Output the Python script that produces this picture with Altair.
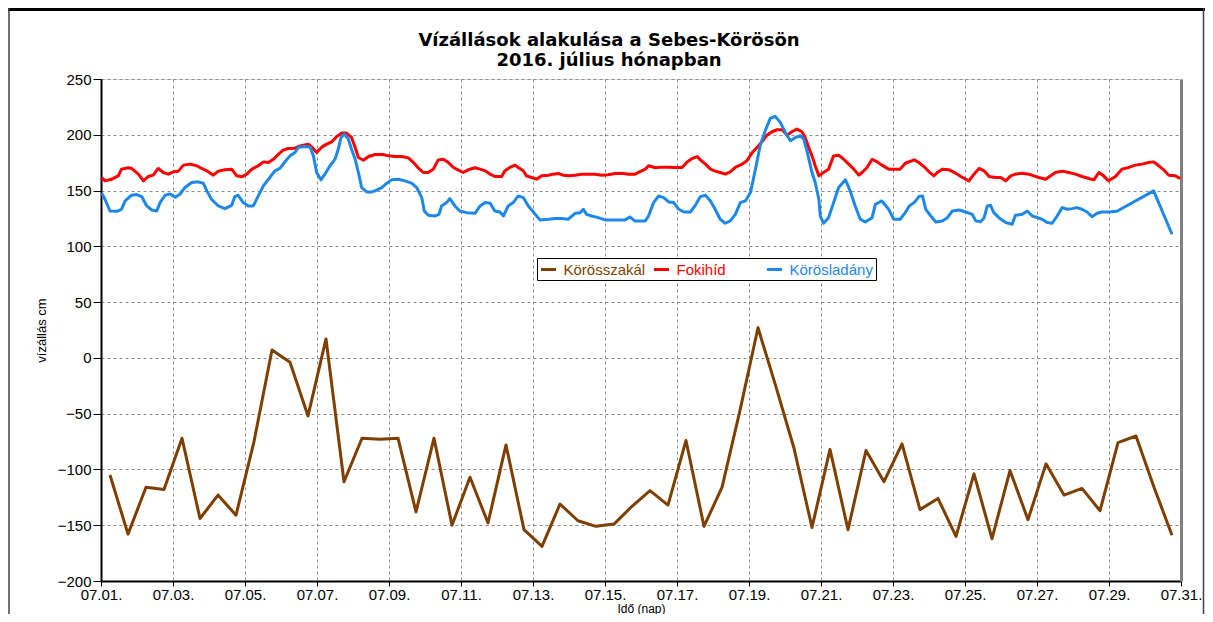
import altair as alt
import pandas as pd

# ---------------- data (day offset from 07.01. 00:00, water level cm) ----------------
series_names = ["Körösszakál", "Fokihíd", "Körösladány"]
series_colors = ["#7f3f00", "#ff0000", "#1e88e8"]

brown_t = [0.25, 0.75, 1.25, 1.75, 2.25, 2.75, 3.25, 3.75, 4.25, 4.75,
           5.25, 5.75, 6.25, 6.75, 7.25, 7.75, 8.25, 8.75, 9.25, 9.75,
           10.25, 10.75, 11.25, 11.75, 12.25, 12.75, 13.25, 13.75, 14.25, 14.75,
           15.25, 15.75, 16.25, 16.75, 17.25, 17.75, 18.25, 18.75, 19.25, 19.75,
           20.25, 20.75, 21.25, 21.75, 22.25, 22.75, 23.25, 23.75, 24.25, 24.75,
           25.25, 25.75, 26.25, 26.75, 27.25, 27.75, 28.25, 28.75, 29.25, 29.75]
brown_v = [-105, -158, -116, -118, -72, -144, -123, -141, -75, 7,
           -4, -52, 17, -111, -72, -73, -72, -138, -72, -150,
           -107, -148, -78, -154, -169, -131, -146, -151, -149, -133,
           -119, -132, -74, -151, -116, -47, 27, -26, -81, -152,
           -82, -154, -83, -111, -77, -136, -126, -160, -104, -162,
           -101, -145, -95, -123, -117, -137, -76, -70, -116, -159]

red_t = [0.02, 0.11, 0.30, 0.48, 0.57, 0.76, 0.85, 1.04, 1.18, 1.31, 1.45, 1.59, 1.73, 1.87,
         2.01, 2.15, 2.29, 2.47, 2.66, 2.80, 2.94, 3.12, 3.26, 3.44, 3.63, 3.77, 3.91,
         4.05, 4.19, 4.37, 4.51, 4.65, 4.79, 4.93, 5.06, 5.20, 5.39, 5.48, 5.62, 5.76,
         5.85, 5.99, 6.13, 6.27, 6.41, 6.55, 6.69, 6.82, 6.96, 7.06, 7.15, 7.29, 7.43,
         7.56, 7.61, 7.84, 7.98, 8.17, 8.35, 8.54, 8.68, 8.81, 8.95, 9.09, 9.23, 9.37,
         9.51, 9.65, 9.79, 9.93, 10.06, 10.20, 10.39, 10.53, 10.67, 10.81, 10.94, 11.13,
         11.22, 11.36, 11.50, 11.59, 11.73, 11.82, 11.96, 12.10, 12.24, 12.43, 12.56,
         12.70, 12.84, 12.98, 13.17, 13.35, 13.54, 13.72, 13.91, 14.09, 14.28, 14.46,
         14.65, 14.83, 15.12, 15.21, 15.40, 15.58, 15.77, 15.95, 16.14, 16.28, 16.42,
         16.56, 16.65, 16.79, 16.93, 17.06, 17.20, 17.34, 17.48, 17.62, 17.81, 17.94,
         18.08, 18.22, 18.36, 18.50, 18.64, 18.78, 18.92, 19.06, 19.19, 19.33, 19.47,
         19.56, 19.66, 19.75, 19.84, 19.94, 20.07, 20.21, 20.35, 20.49, 20.63, 20.77,
         20.91, 21.05, 21.14, 21.28, 21.42, 21.56, 21.69, 21.88, 22.06, 22.20, 22.34,
         22.59, 22.72, 22.86, 23.00, 23.14, 23.23, 23.37, 23.56, 23.74, 23.93, 24.11,
         24.25, 24.39, 24.53, 24.67, 24.85, 24.99, 25.13, 25.27, 25.40, 25.59, 25.77,
         25.91, 26.05, 26.24, 26.38, 26.51, 26.70, 26.88, 27.07, 27.25, 27.44, 27.58,
         27.72, 27.85, 27.99, 28.18, 28.36, 28.55, 28.73, 28.92, 29.10, 29.24, 29.38,
         29.52, 29.66, 29.84, 29.98]
red_v = [161.7, 158.7, 160.2, 163.2, 169.2, 170.4, 169.8, 164.7, 158.7, 162.6, 163.8, 169.8, 166.2, 164.7,
         166.8, 167.4, 172.8, 173.7, 172.2, 169.8, 167.7, 163.8, 167.4, 168.6, 169.2, 163.2, 162.3,
         164.7, 169.2, 172.2, 175.7, 175.1, 178.1, 182.6, 186.2, 187.7, 188.0, 189.5, 190.7, 191.6,
         189.2, 184.1, 188.9, 191.6, 193.7, 198.5, 201.5, 201.5, 197.6, 188.6, 179.6, 177.2, 180.5,
         181.7, 182.3, 182.3, 181.1, 180.5, 180.5, 179.3, 175.1, 170.4, 166.2, 166.2, 169.2, 177.5,
         178.1, 175.1, 170.7, 168.3, 166.2, 168.6, 170.4, 169.2, 167.7, 164.7, 162.6, 162.6,
         167.7, 170.7, 172.8, 170.7, 167.7, 163.2, 161.7, 160.2, 163.2, 163.8, 164.7,
         165.3, 163.8, 163.2, 163.8, 164.7, 164.7, 164.7, 163.8, 164.1, 165.3, 165.6,
         164.7, 164.7, 169.2, 172.2, 170.4, 171.0, 171.0, 170.7, 170.7, 175.7, 178.7,
         180.5, 177.5, 173.7, 169.2, 167.4, 166.2, 164.7, 166.8, 170.7, 173.7, 176.7,
         183.6, 188.6, 193.7, 199.7, 202.7, 204.5, 204.5, 199.7, 202.7, 205.1, 202.7,
         197.6, 188.6, 181.1, 172.2, 163.2, 166.2, 169.2, 181.1, 181.7, 178.1, 173.7,
         169.2, 163.8, 166.2, 170.7, 178.1, 175.7, 172.8, 169.2, 169.2, 169.2, 174.5,
         177.5, 175.1, 171.5, 166.8, 163.2, 166.2, 169.2, 168.6, 165.6, 161.7, 158.7,
         164.7, 169.8, 167.7, 162.6, 161.7, 161.7, 158.7, 163.2, 164.7, 165.6, 164.7,
         163.2, 161.7, 160.2, 163.2, 166.2, 167.4, 166.2, 164.7, 162.6, 160.8, 159.6,
         166.2, 163.2, 158.7, 162.6, 169.2, 170.7, 172.8, 173.7, 175.1, 175.7, 172.2,
         168.6, 163.8, 163.2, 160.8]

blue_t = [0.02, 0.11, 0.25, 0.44, 0.57, 0.67, 0.85, 0.99, 1.13, 1.27, 1.41, 1.55, 1.64, 1.78,
          1.92, 2.06, 2.19, 2.33, 2.52, 2.70, 2.84, 2.94, 3.07, 3.26, 3.44, 3.63, 3.72, 3.81,
          3.95, 4.09, 4.23, 4.37, 4.51, 4.69, 4.83, 4.97, 5.11, 5.25, 5.39, 5.48, 5.67, 5.81,
          5.90, 5.99, 6.11, 6.22, 6.36, 6.50, 6.59, 6.67, 6.76, 6.87, 6.96, 7.06, 7.15, 7.24,
          7.38, 7.52, 7.61, 7.80, 7.94, 8.07, 8.26, 8.44, 8.63, 8.77, 8.91, 8.98, 9.09, 9.28,
          9.39, 9.46, 9.60, 9.69, 9.83, 9.97, 10.16, 10.39, 10.53, 10.67, 10.81, 10.94, 11.08,
          11.18, 11.31, 11.45, 11.59, 11.73, 11.87, 12.01, 12.19, 12.43, 12.61, 12.80, 12.98,
          13.17, 13.31, 13.40, 13.49, 13.63, 13.81, 14.00, 14.28, 14.56, 14.69, 14.83, 14.94,
          15.12, 15.21, 15.35, 15.49, 15.63, 15.77, 15.91, 16.05, 16.19, 16.37, 16.51, 16.65,
          16.79, 16.93, 17.06, 17.20, 17.34, 17.48, 17.62, 17.76, 17.90, 18.04, 18.18, 18.31,
          18.45, 18.59, 18.73, 18.87, 19.01, 19.15, 19.29, 19.43, 19.52, 19.61, 19.75, 19.84,
          19.94, 19.98, 20.07, 20.21, 20.35, 20.49, 20.68, 20.81, 20.95, 21.09, 21.23, 21.42,
          21.51, 21.69, 21.88, 22.02, 22.20, 22.34, 22.45, 22.59, 22.72, 22.82, 22.91, 23.05,
          23.19, 23.37, 23.51, 23.65, 23.83, 24.02, 24.20, 24.30, 24.43, 24.53, 24.62, 24.71,
          24.80, 24.94, 25.13, 25.31, 25.40, 25.59, 25.73, 25.87, 26.01, 26.14, 26.28, 26.42,
          26.56, 26.70, 26.84, 26.98, 27.11, 27.25, 27.39, 27.53, 27.67, 27.81, 27.99, 28.22,
          29.24, 29.75]
blue_v = [147.6, 142.2, 131.7, 131.4, 133.2, 140.7, 145.8, 146.4, 144.6, 136.2, 132.6, 131.7, 139.2, 145.8,
          147.0, 144.0, 146.7, 152.7, 157.2, 157.8, 156.6, 149.7, 142.2, 136.2, 133.8, 136.8, 144.6, 145.8,
          139.2, 136.2, 136.2, 145.2, 154.2, 161.7, 167.7, 169.8, 175.8, 181.1, 184.1, 188.9, 189.5, 188.9,
          181.1, 166.2, 159.6, 164.7, 172.2, 178.1, 187.1, 197.6, 200.6, 196.1, 187.1, 178.1, 166.2, 152.7,
          148.8, 148.8, 149.7, 152.7, 156.6, 159.6, 160.2, 158.7, 156.6, 152.7, 143.7, 131.7, 127.8, 127.2,
          128.7, 136.2, 139.2, 142.8, 136.2, 131.7, 130.2, 129.6, 136.2, 139.2, 138.6, 131.7, 130.8,
          127.2, 136.2, 139.2, 145.2, 143.7, 136.2, 130.8, 123.7, 124.3, 124.9, 124.9, 124.3,
          129.6, 130.2, 133.2, 128.7, 127.2, 125.7, 123.7, 123.7, 123.7, 126.3, 122.8, 122.8,
          122.8, 127.2, 139.2, 145.2, 143.7, 139.8, 139.2, 133.2, 130.8, 130.8, 136.8, 144.6,
          145.8, 140.7, 133.2, 124.3, 120.7, 122.8, 128.7, 139.2, 140.7, 148.2, 169.2, 190.1,
          203.6, 214.7, 216.5, 211.1, 202.1, 194.6, 197.6, 199.1, 196.1, 185.6, 166.2, 157.2,
          142.2, 127.2, 120.7, 125.7, 139.2, 152.7, 159.6, 149.7, 136.2, 124.3, 121.9, 125.7,
          137.7, 140.7, 133.2, 124.3, 124.3, 130.2, 136.2, 139.2, 144.6, 145.2, 133.2, 127.2,
          121.9, 122.8, 125.7, 131.7, 132.6, 130.8, 128.7, 122.8, 121.9, 125.7, 136.2, 136.8,
          130.2, 125.7, 121.3, 119.8, 127.8, 128.7, 131.7, 127.2, 125.7, 124.3, 121.3, 120.7,
          127.2, 134.7, 133.2, 133.8, 134.7, 133.2, 130.8, 126.6, 129.6, 130.8, 130.8, 131.4,
          149.7, 110.8]

x_ticks = list(range(0, 31, 2))
y_ticks = list(range(-200, 251, 50))

title_lines = ["Vízállások alakulása a Sebes-Körösön", "2016. július hónapban"]
x_title = "Idő (nap)"
y_title = "vízállás cm"

# ---------------- table ----------------
df = pd.concat([
    pd.DataFrame({"t": brown_t, "v": brown_v, "s": series_names[0]}),
    pd.DataFrame({"t": red_t, "v": red_v, "s": series_names[1]}),
    pd.DataFrame({"t": blue_t, "v": blue_v, "s": series_names[2]}),
], ignore_index=True)

FONT = "Liberation Sans, Arial, sans-serif"
TITLE_FONT = "DejaVu Sans, Liberation Sans, sans-serif"
GRID = "#8c8c8c"

x_scale = alt.Scale(domain=[0, 30], nice=False, zero=False)
y_scale = alt.Scale(domain=[-200, 250], nice=False, zero=False)
color_scale = alt.Scale(domain=series_names, range=series_colors)

x_enc = alt.X(
    "t:Q", scale=x_scale,
    axis=alt.Axis(
        values=x_ticks,
        labelExpr="'07.' + (datum.value + 1 < 10 ? '0' : '') + (datum.value + 1) + '.'",
        title=x_title, grid=True, gridDash=[3, 3], gridColor=GRID, gridWidth=1,
        domainColor="black", domainWidth=2, tickColor="black", tickSize=5,
        labelFontSize=15, labelFont=FONT, labelColor="black", labelPadding=1,
        titleFontSize=12, titleFont=FONT, titleFontWeight="normal", titleColor="black",
        titlePadding=1, labelFlush=False,
    ),
)

y_axis = alt.Axis(
    values=y_ticks, title=y_title, grid=True, gridDash=[3, 3], gridColor=GRID, gridWidth=1,
    domainColor="black", domainWidth=2, tickColor="black", tickSize=8,
    labelFontSize=15, labelFont=FONT, labelColor="black", labelPadding=2,
    titleFontSize=13, titleFont=FONT, titleFontWeight="normal", titleColor="black",
    titlePadding=9,
)

label_color_expr = " : ".join(
    f"datum.value == '{n}' ? '{c}'" for n, c in zip(series_names[:-1], series_colors[:-1])
) + f" : '{series_colors[-1]}'"

legend = alt.Legend(
    orient="none", legendX=436, legendY=179, direction="horizontal", title=None,
    symbolType="stroke", symbolStrokeWidth=3, symbolSize=225,
    labelFont=FONT, labelFontSize=15, gridAlign="all", columnPadding=0,
    fillColor="white", strokeColor="black", padding=2.5, labelOffset=6,
    labelColor=alt.ExprRef(label_color_expr),
)

color_enc = alt.Color("s:N", scale=color_scale, legend=legend)

base = alt.Chart(df)

layers = []
for i, name in enumerate(series_names):
    layers.append(
        base.transform_filter(alt.datum.s == name)
        .mark_line(strokeWidth=3, strokeJoin="round")
        .encode(
            x=x_enc,
            y=alt.Y("v:Q", scale=y_scale, axis=y_axis if i == 0 else None),
            color=color_enc,
        )
    )

# right edge of the plot (grey border) drawn as an axis on the right side
right_edge = (
    base.mark_line(opacity=0)
    .encode(
        x=alt.X("t:Q", scale=x_scale),
        y=alt.Y("v:Q", scale=y_scale,
                axis=alt.Axis(orient="right", labels=False, ticks=False, grid=False, title=None,
                              domainColor="#808080", domainWidth=3)),
    )
)

# page frame decoration
frame = alt.Chart(pd.DataFrame({"k": [0]})).mark_rule(color="black", strokeWidth=3).encode(
    x=alt.value(-93), x2=alt.value(1104), y=alt.value(-69.5)
)
frame_right = alt.Chart(pd.DataFrame({"k": [0]})).mark_rule(color="#404040", strokeWidth=1.5).encode(
    x=alt.value(1102.5), y=alt.value(-71), y2=alt.value(535)
)
frame_left = alt.Chart(pd.DataFrame({"k": [0]})).mark_rule(color="#404040", strokeWidth=1.5).encode(
    x=alt.value(-92), y=alt.value(-71), y2=alt.value(535)
)

chart = (
    alt.layer(*layers, right_edge, frame, frame_right, frame_left)
    .resolve_axis(y="independent")
    .properties(
        width=1080, height=502,
        autosize=alt.AutoSizeParams(type="none"),
        padding={"left": 93, "top": 71, "right": 24, "bottom": 33},
        title=alt.TitleParams(
            text=title_lines, fontSize=18, font=TITLE_FONT, frame="group",
            fontWeight="bold", color="black", anchor="middle", dx=-32, dy=75, offset=12,
            lineHeight=20,
        ),
    )
    .configure_view(stroke=None)
    .configure(background="white")
)

chart.save("out.html", embed_options={"renderer": "svg", "actions": False})
